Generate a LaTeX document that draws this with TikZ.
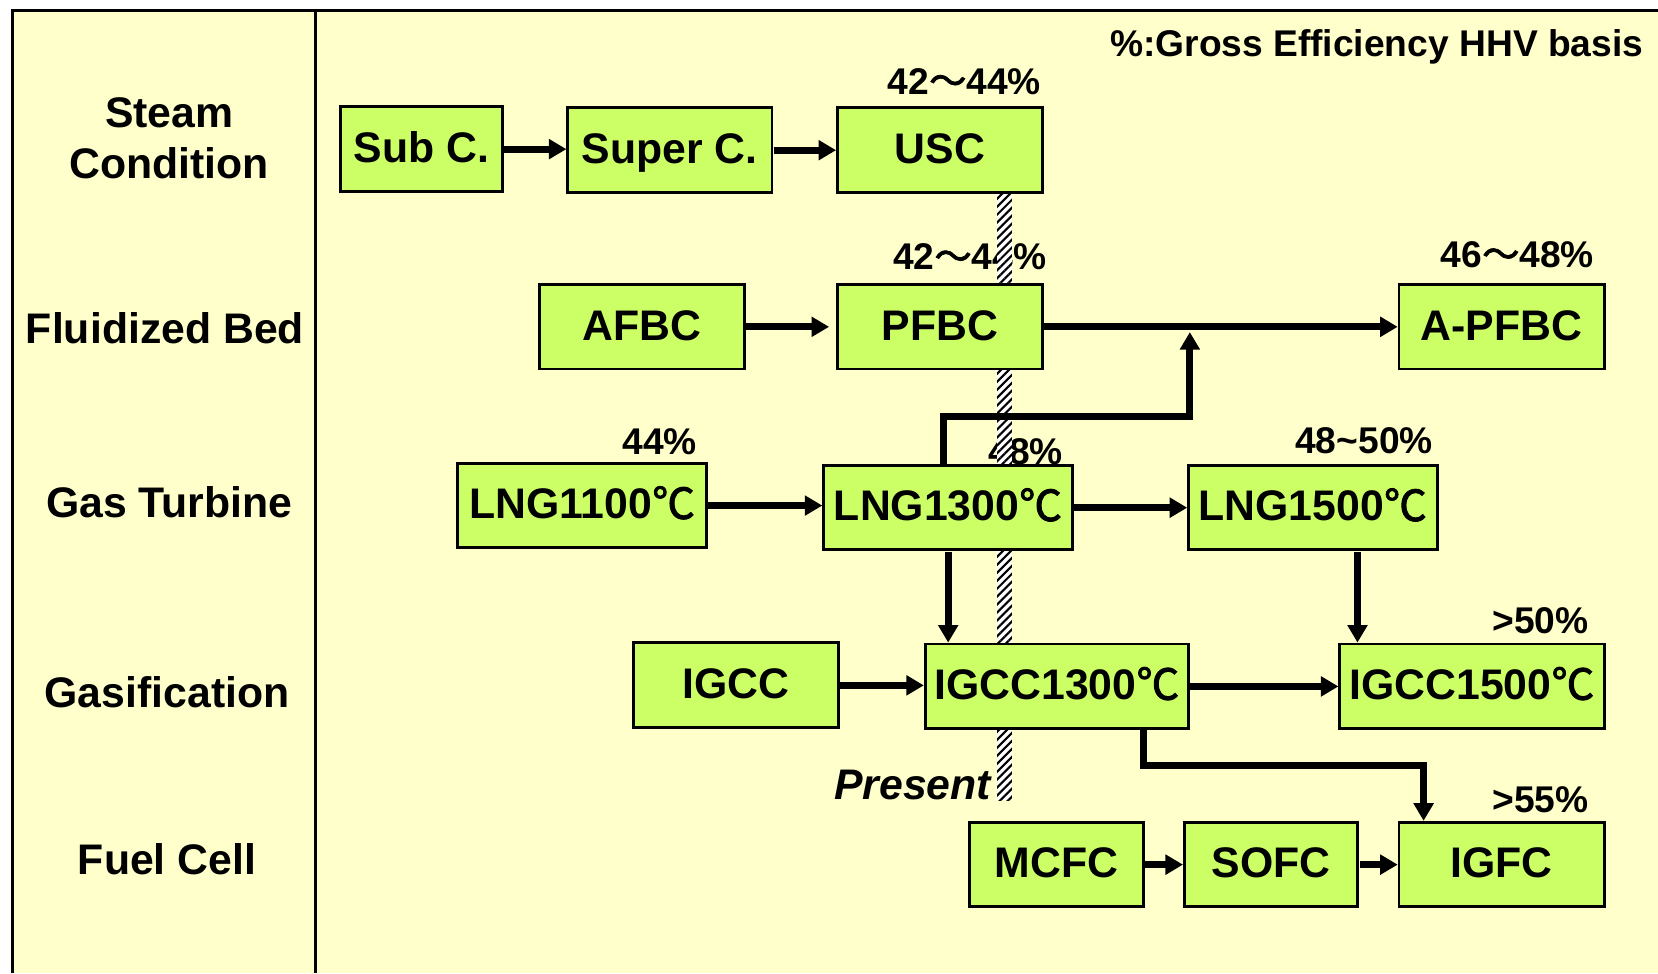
\documentclass[tikz,border=0pt]{standalone}
\usepackage{fontspec}
\setmainfont{Liberation Sans}
\newfontfamily\cjk[AutoFakeBold=2]{Noto Sans CJK JP}
\usetikzlibrary{arrows.meta,calc,patterns.meta}
\definecolor{paleyellow}{RGB}{255,255,204}
\definecolor{limegreen}{RGB}{204,255,102}
\newcommand{\degC}{{\cjk ℃}}
\newcommand{\wdash}{{\cjk 〜}}

\tikzset{
  techbox/.style={draw=black, line width=0.8pt, fill=limegreen, inner sep=0pt,
    font=\fontsize{11.5}{13}\selectfont\bfseries, minimum height=0.8cm,
    text height=0.72em, text depth=0pt},
  effnote/.style={font=\fontsize{10}{12}\selectfont\bfseries, inner sep=0pt},
  rowlabel/.style={font=\fontsize{11.5}{13.6}\selectfont\bfseries, align=center, inner sep=0pt},
  flow/.style={line width=2pt, -{Triangle[length=5pt,width=5.5pt]}},
}

\begin{document}
\begin{tikzpicture}[x=0.01cm, y=-0.01cm, scale=1.0574, transform shape]
\useasboundingbox (0,0) rectangle (1568,920.2);

% frame
\fill[paleyellow] (12,10) rectangle (1568,920.2);
\draw[line width=0.85pt] (12,920.2) -- (12,10) -- (1568,10);
\draw[line width=0.85pt] (298,10) -- (298,920.2);

% row labels
\node[rowlabel] (rsteam) at (160,131) {Steam\\Condition};
\node[rowlabel] (rfluid) at (156,310) {Fluidized Bed};
\node[rowlabel] (rgas)   at (160,475) {Gas Turbine};
\node[rowlabel] (rgasif) at (158,655) {Gasification};
\node[rowlabel] (rfuel)  at (158,813) {Fuel Cell};

% efficiency notes
\node[effnote] (nbasis) at (1302,44) {\%:Gross Efficiency HHV basis};
\node[effnote] (nusc)   at (912,77)  {42\wdash44\%};
\node[effnote] (npfbc)  at (917,243) {42\wdash44\%};
\node[effnote] (napfbc) at (1435,241) {46\wdash48\%};
\node[effnote] (nlng11) at (624,418) {44\%};
\node[effnote] (nlng13) at (970,427) {48\%};
\node[effnote] (nlng15) at (1290,417) {48\textasciitilde50\%};
\node[effnote, anchor=east] (nigcc15) at (1503,587) {>50\%};
\node[effnote, anchor=east] (nigfc)   at (1503,756) {>55\%};

% present line
\fill[white] (943,182) rectangle (957,757);
\fill[pattern={Lines[angle=45,distance=1.6pt,line width=0.6pt]}] (943,182) rectangle (957,757);
\node[font=\fontsize{11.5}{13}\selectfont\bfseries\itshape, anchor=east, inner sep=0pt] (present) at (938,742) {Present};

% steam condition
\node[techbox, minimum width=1.53cm] (subc)   at (398.5,141) {Sub C.};
\node[techbox, minimum width=1.93cm] (superc) at (633.5,142) {Super C.};
\node[techbox, minimum width=1.94cm] (usc)    at (889,142)   {USC};

% fluidized bed
\node[techbox, minimum width=1.94cm] (afbc)  at (607,309)  {AFBC};
\node[techbox, minimum width=1.94cm] (pfbc)  at (889,309)  {PFBC};
\node[techbox, minimum width=1.94cm] (apfbc) at (1420,309) {A-PFBC};

% gas turbine
\node[techbox, minimum width=2.35cm] (lng11) at (550.5,478)  {LNG1100\degC};
\node[techbox, minimum width=2.35cm] (lng13) at (896.5,480)  {LNG1300\degC};
\node[techbox, minimum width=2.35cm] (lng15) at (1241.5,480) {LNG1500\degC};

% gasification
\node[techbox, minimum width=1.94cm] (igcc)   at (696,648)    {IGCC};
\node[techbox, minimum width=2.49cm] (igcc13) at (999.5,649)  {IGCC1300\degC};
\node[techbox, minimum width=2.50cm] (igcc15) at (1392,649)   {IGCC1500\degC};

% fuel cell
\node[techbox, minimum width=1.64cm] (mcfc) at (999,817.5)  {MCFC};
\node[techbox, minimum width=1.64cm] (sofc) at (1202,817.5) {SOFC};
\node[techbox, minimum width=1.94cm] (igfc) at (1420,817.5) {IGFC};

% connectors
\draw[flow] (subc.east) -- (subc.east -| superc.west);
\draw[flow] (superc.east) -- (superc.east -| usc.west);
\draw[flow, shorten >=0.07cm] (afbc.east) -- (afbc.east -| pfbc.west);
\draw[flow] (pfbc.east) -- (apfbc.west);
\coordinate (gtknee) at (1125,394);
\draw[flow, shorten >=1.5pt] ($(lng13.north)+(-4,0)$) |- (gtknee) -- (gtknee |- pfbc.east);
\draw[flow] (lng11.east) -- (lng11.east -| lng13.west);
\draw[flow] (lng13.east) -- (lng15.west);
\draw[flow] (lng13.south) -- (lng13.south |- igcc13.north);
\draw[flow] ($(lng15.south)+(42,0)$) -- ($(lng15.south |- igcc15.north)+(42,0)$);
\draw[flow] (igcc.east) -- (igcc.east -| igcc13.west);
\draw[flow] (igcc13.east) -- (igcc15.west);
\coordinate (fcknee) at (1346,724);
\draw[flow] ($(igcc13.south)+(81.5,0)$) |- (fcknee) -- (fcknee |- igfc.north);
\draw[flow] (mcfc.east) -- (sofc.west);
\draw[flow] (sofc.east) -- (igfc.west);

\end{tikzpicture}
\end{document}
